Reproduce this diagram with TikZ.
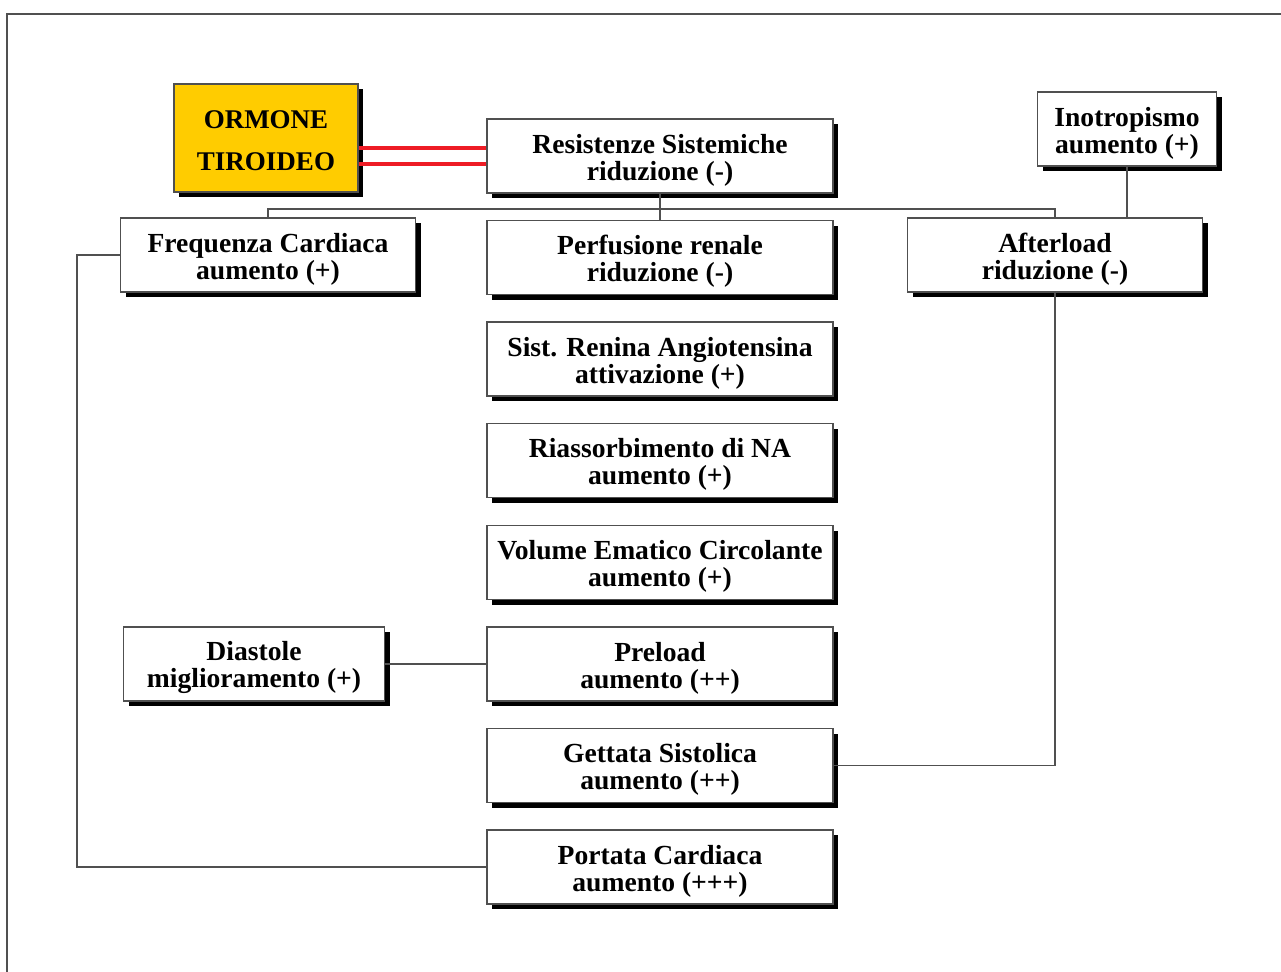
\documentclass[tikz,border=0pt]{standalone}
\usepackage{fontspec}
\setmainfont{Liberation Serif}
\usetikzlibrary{positioning, shadows}

\definecolor{ormonefill}{HTML}{FFCC00}
\definecolor{redlink}{HTML}{EE1C25}
\definecolor{boxline}{HTML}{505050}

\begin{document}
\begin{tikzpicture} [x=0.5pt, y=-0.5pt,
                node distance = 50.8pt,
                on grid,
                fbox/.style = {draw=boxline, line width=0.7pt, fill=white,
                    minimum width=173pt, minimum height=37pt,
                    inner sep=0pt, align=center,
                    font=\bfseries\fontsize{13.8}{13.5}\selectfont,
                    execute at begin node={\rule{0pt}{27pt}},
                    drop shadow={opacity=1, fill=black,
                        shadow xshift=2.6pt, shadow yshift=-2.6pt}},
                link/.style = {draw=boxline, line width=0.7pt},
                redline/.style = {draw=redlink, line width=2pt}]

            \useasboundingbox (0,0) rectangle (1281,972);

            % Frame
            \draw [link] (7,972) -- (7,14) -- (1281,14);

            % Thyroid hormone
            \node (ormone) [fbox,
                fill=ormonefill,
                minimum width=92pt,
                minimum height=54pt,
                execute at begin node={\rule{0pt}{33pt}},
                font=\bfseries\fontsize{13.5}{21}\selectfont] at (266,138) {ORMONE\\TIROIDEO};

            % Central column
            \node (resist) [fbox] at (660,156) {Resistenze Sistemiche\\riduzione (-)};

            \node (perf) [fbox,
                below = of resist] {Perfusione renale\\riduzione (-)};

            \node (renina) [fbox,
                below = of perf] {Sist. Renina Angiotensina\\attivazione (+)};

            \node (riass) [fbox,
                below = of renina] {Riassorbimento di NA\\aumento (+)};

            \node (volume) [fbox,
                below = of riass] {Volume Ematico Circolante\\aumento (+)};

            \node (preload) [fbox,
                below = of volume] {Preload\\aumento (++)};

            \node (gettata) [fbox,
                below = of preload] {Gettata Sistolica\\aumento (++)};

            \node (portata) [fbox,
                below = of gettata] {Portata Cardiaca\\aumento (+++)};

            % Side boxes
            \node (freq) [fbox,
                minimum width=147.5pt] at (268,255) {Frequenza Cardiaca\\aumento (+)};

            \node (after) [fbox,
                minimum width=147.5pt] at (1055,255) {Afterload\\riduzione (-)};

            \node (ino) [fbox,
                minimum width=89.5pt] at (1127,129) {Inotropismo\\aumento (+)};

            \node (diast) [fbox,
                minimum width=130.5pt] at (254,664) {Diastole\\miglioramento (+)};

            % Red links
            \coordinate (r1) at ([yshift=4pt]resist.west);
            \coordinate (r2) at ([yshift=-4pt]resist.west);
            \draw [redline] (ormone.east |- r1) -- (r1);
            \draw [redline] (ormone.east |- r2) -- (r2);

            % Links
            \coordinate (bus) at (0,209);
            \draw [link] (freq.north) -- (freq.north |- bus) -- (after.north |- bus) -- (after.north);
            \draw [link] (resist.south) -- (perf.north);
            \draw [link] (ino.south) -- (ino.south |- after.north);
            \draw [link] (freq.west) -- ++(-43,0) |- (portata.west);
            \draw [link] (diast.east) -- (preload.west);
            \draw [link] (after.south) |- (gettata.east);
\end{tikzpicture}
\end{document}
